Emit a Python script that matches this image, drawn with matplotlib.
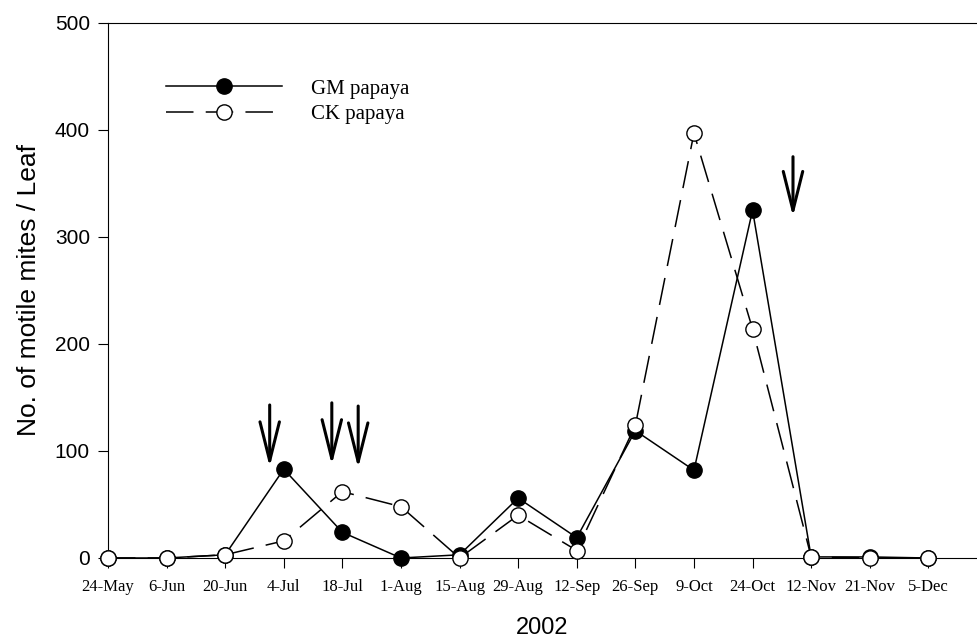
import matplotlib
matplotlib.use("Agg")
import matplotlib.pyplot as plt

# sampling dates and mite counts
dates = ["24-May", "6-Jun", "20-Jun", "4-Jul", "18-Jul", "1-Aug", "15-Aug", "29-Aug",
         "12-Sep", "26-Sep", "9-Oct", "24-Oct", "12-Nov", "21-Nov", "5-Dec"]
gm = [0, 0, 3, 83, 24, 0, 3, 56, 19, 119, 82, 325, 1, 1, 0]
ck = [0, 0, 3, 16, 62, 48, 0, 40, 7, 124, 397, 214, 1, 0, 0]

# spray arrows: x position (in date index), arrow top and tip
arrow_x = [2.76, 3.82, 4.27, 11.69]
arrow_top = [143, 145, 142, 375]
arrow_tip = [85, 87, 84, 319]

fig = plt.figure(figsize=(9.77, 6.38), dpi=100)
ax = fig.add_axes([0.1105, 0.1254, 0.8895, 0.8386])

x = list(range(len(dates)))
ax.plot(x, gm, color="black", lw=1.1, marker="o", ms=11, mfc="black", mec="black",
        label="GM papaya", zorder=3, clip_on=False)
ax.plot(x, ck, color="black", lw=1.1, dashes=(18, 8), marker="o", ms=11, mfc="white",
        mec="black", mew=1, label="CK papaya", zorder=4, clip_on=False)

for xa, yt, yb in zip(arrow_x, arrow_top, arrow_tip):
    ax.annotate("", xy=(xa, yb), xytext=(xa, yt),
                arrowprops=dict(arrowstyle="->, head_length=2.8, head_width=0.7",
                                lw=2.2, color="black", shrinkA=0, shrinkB=0))

ax.set_xlim(0, 14.83)
ax.set_ylim(0, 500)
ax.set_yticks([0, 100, 200, 300, 400, 500])
ax.set_xticks(x)
ax.set_xticklabels(dates, fontsize=12, family="Liberation Serif")
for lab in ax.get_yticklabels():
    lab.set_family("Liberation Sans")
    lab.set_fontsize(15)
ax.tick_params(axis="both", direction="out", length=7, width=0.8)
ax.tick_params(axis="x", pad=8)
ax.tick_params(axis="y", pad=6)
ax.spines["right"].set_visible(False)
for s in ["left", "bottom", "top"]:
    ax.spines[s].set_linewidth(0.8)

ax.set_ylabel("No. of motile mites / Leaf", fontsize=19, family="Liberation Sans", labelpad=10)
ax.set_xlabel("2002", fontsize=17, family="Liberation Sans", labelpad=16)

leg = ax.legend(loc="upper left", bbox_to_anchor=(0.057, 0.911), frameon=False,
                handlelength=5.6, prop={"family": "Liberation Serif", "size": 15},
                labelspacing=0.3, handletextpad=1.35, borderaxespad=0)

fig.savefig("out.png", dpi=100)
